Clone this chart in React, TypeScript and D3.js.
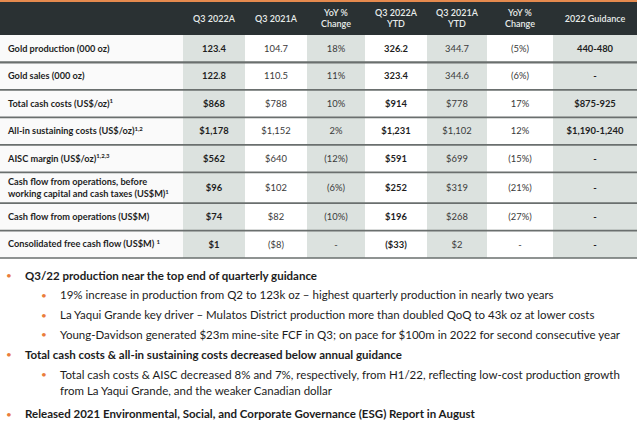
import React, { useEffect } from 'react';
import * as d3 from 'd3';

const W = 640;
const H = 423;

// table content
const columns = ['label', 'q3_22', 'q3_21', 'yoy_q', 'ytd_22', 'ytd_21', 'yoy_ytd', 'guide'];
const headerLines = [[], ['Q3 2022A'], ['Q3 2021A'], ['YoY %', 'Change'], ['Q3 2022A', 'YTD'], ['Q3 2021A', 'YTD'], ['YoY %', 'Change'], ['2022 Guidance']];
const rowLabels = [
  ['Gold production (000 oz)'],
  ['Gold sales (000 oz)'],
  ['Total cash costs (US$/oz)'],
  ['All-in sustaining costs (US$/oz)'],
  ['AISC margin (US$/oz)'],
  ['Cash flow from operations, before', 'working capital and cash taxes (US$M)'],
  ['Cash flow from operations (US$M)'],
  ['Consolidated free cash flow (US$M) '],
];
const rowNotes = ['', '', '1', '1,2', '1,2,3', '1', '', '1'];
const q3_2022 = ['123.4', '122.8', '$868', '$1,178', '$562', '$96', '$74', '$1'];
const q3_2021 = ['104.7', '110.5', '$788', '$1,152', '$640', '$102', '$82', '($8)'];
const yoyQuarter = ['18%', '11%', '10%', '2%', '(12%)', '(6%)', '(10%)', '-'];
const ytd_2022 = ['326.2', '323.4', '$914', '$1,231', '$591', '$252', '$196', '($33)'];
const ytd_2021 = ['344.7', '344.6', '$778', '$1,102', '$699', '$319', '$268', '$2'];
const yoyYtd = ['(5%)', '(6%)', '17%', '12%', '(15%)', '(21%)', '(27%)', '-'];
const guidance = ['440-480', '-', '$875-925', '$1,190-1,240', '-', '-', '-', '-'];

const valueCols = [q3_2022, q3_2021, yoyQuarter, ytd_2022, ytd_2021, yoyYtd, guidance];
const boldCols = [true, false, false, true, false, false, true];
const shadedCols = [false, true, false, true, false, true, false, true];

// commentary bullets: level, lines
const bulletLevel = [0, 1, 1, 1, 0, 1, 0];
const bulletLines = [
  ['Q3/22 production near the top end of quarterly guidance'],
  ['19% increase in production from Q2 to 123k oz \u2013 highest quarterly production in nearly two years'],
  ['La Yaqui Grande key driver \u2013 Mulatos District production more than doubled QoQ to 43k oz at lower costs'],
  ['Young-Davidson generated $23m mine-site FCF in Q3; on pace for $100m in 2022 for second consecutive year'],
  ['Total cash costs & all-in sustaining costs decreased below annual guidance'],
  ['Total cash costs & AISC decreased 8% and 7%, respectively, from H1/22, reflecting low-cost production growth', 'from La Yaqui Grande, and the weaker Canadian dollar'],
  ['Released 2021 Environmental, Social, and Corporate Governance (ESG) Report in August'],
];

const colWidths = [183, 62, 62, 58, 62, 60, 66, 84];
const FONT = 'Lato, "Open Sans", sans-serif';

export default function App() {
  useEffect(() => {
    document.body.style.margin = '0';
  }, []);

  // column edges
  const edges = d3.cumsum([0, ...colWidths]);
  const x = d3.scaleLinear().domain([0, edges[edges.length - 1]]).range([0, 637]);

  // row edges: rows weighted by line count
  const rowUnits = rowLabels.map((l) => (l.length > 1 ? 1.12 : 1));
  const rowEdges = Array.from(d3.cumsum([0, ...rowUnits]));
  const headerTop = 2;
  const headerBottom = 35;
  const y = d3.scaleLinear().domain([0, rowEdges[rowEdges.length - 1]]).range([headerBottom, 258]);

  // bullet layout
  const bulletY = d3.scaleLinear().domain([0, 1]).range([275.5, 295.3]);
  let lineIdx = 0;
  const bulletPos = bulletLines.map((lines, i) => {
    const start = lineIdx;
    lineIdx += lines.length;
    return { start, i };
  });

  return (
    <svg width={W} height={H} style={{ display: 'block', background: '#fff' }} fontFamily={FONT}>
      <rect x={0} y={0} width={W} height={H} fill="#fff" />
      <rect x={0} y={0} width={637} height={2.5} fill="#e58a4e" />
      <rect x={0} y={headerTop} width={637} height={headerBottom - headerTop} fill="#2a3133" />

      {/* column shading */}
      {columns.map((c, ci) => (
        <rect
          key={c}
          x={x(edges[ci])}
          y={headerBottom}
          width={x(edges[ci + 1]) - x(edges[ci])}
          height={258 - headerBottom}
          fill={shadedCols[ci] ? '#dce2df' : ci === 0 ? '#fafafa' : '#ffffff'}
        />
      ))}

      {/* header text */}
      {headerLines.map((lines, ci) => {
        const cx = (x(edges[ci]) + x(edges[ci + 1])) / 2;
        const mid = (headerTop + headerBottom) / 2;
        return lines.map((t, li) => (
          <text
            key={ci + '-' + li}
            x={cx}
            y={mid + (li - (lines.length - 1) / 2) * 11}
            dy="0.35em"
            textAnchor="middle"
            fill="#e8ecea"
            fontSize={9}
            fontWeight={600}
          >
            {t}
          </text>
        ));
      })}

      {/* row separators */}
      {rowEdges.slice(1).map((r, i) => (
        <line key={i} x1={0} x2={637} y1={y(r)} y2={y(r)} stroke="#6a6f6e" strokeWidth={i === 0 ? 2.2 : 1.7} />
      ))}

      {/* row labels */}
      {rowLabels.map((lines, ri) => {
        const mid = (y(rowEdges[ri]) + y(rowEdges[ri + 1])) / 2;
        return lines.map((t, li) => (
          <text
            key={ri + '-' + li}
            x={8}
            y={mid + (li - (lines.length - 1) / 2) * 12.5}
            dy="0.35em"
            fill="#1e1e1e"
            fontSize={9.2}
            fontWeight={700}
          >
            {t}
            {li === lines.length - 1 && rowNotes[ri] ? (
              <tspan fontSize={6} dy="-3.5">{rowNotes[ri]}</tspan>
            ) : null}
          </text>
        ));
      })}

      {/* values */}
      {valueCols.map((vals, vi) => {
        const ci = vi + 1;
        const cx = (x(edges[ci]) + x(edges[ci + 1])) / 2;
        return vals.map((v, ri) => {
          const mid = (y(rowEdges[ri]) + y(rowEdges[ri + 1])) / 2;
          return (
            <text
              key={vi + '-' + ri}
              x={cx}
              y={mid}
              dy="0.35em"
              textAnchor="middle"
              fill={boldCols[vi] ? '#1e1e1e' : '#3a3a3a'}
              fontSize={9.4}
              fontWeight={boldCols[vi] ? 700 : 400}
            >
              {v}
            </text>
          );
        });
      })}

      {/* commentary */}
      {bulletPos.map(({ start, i }) => {
        const lvl = bulletLevel[i];
        const bx = lvl === 0 ? 6 : 41;
        const tx = lvl === 0 ? 25 : 60;
        const bold = lvl === 0;
        return (
          <g key={i}>
            <text x={bx} y={bulletY(start)} dy="0.35em" fill="#ea7d3c" fontSize={10}>
              •
            </text>
            {bulletLines[i].map((t, li) => (
              <text
                key={li}
                x={tx}
                y={bulletY(start) + li * 16}
                dy="0.35em"
                fill="#1c1c1c"
                fontSize={11.5}
                fontWeight={bold ? 700 : 400}
              >
                {t}
              </text>
            ))}
          </g>
        );
      })}
    </svg>
  );
}
